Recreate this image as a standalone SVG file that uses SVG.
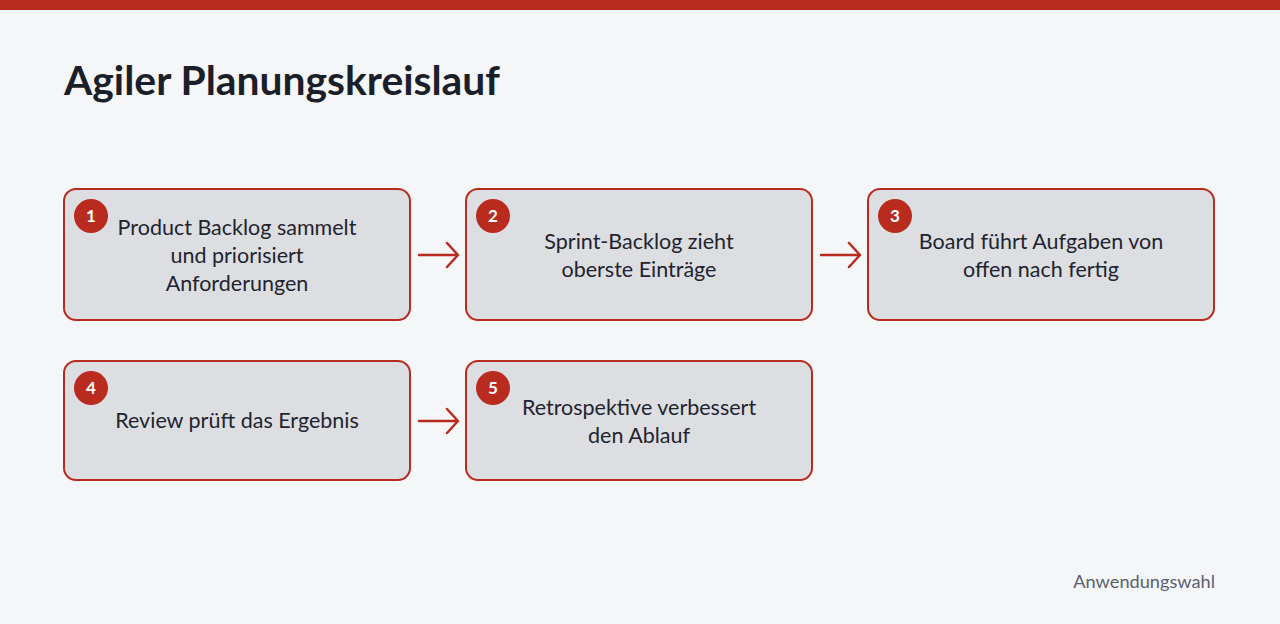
<svg xmlns="http://www.w3.org/2000/svg" width="1280" height="624" viewBox="0 0 1280 624">
<style>
.bg{fill:#f5f6f8}
.bar{fill:#b92b1e}
.title{font-family:Lato,"Open Sans","Liberation Sans",sans-serif;font-weight:700;font-size:40.8px;fill:#1b1f2a}
.box{fill:#dcdee2;stroke:#b92b1e;stroke-width:2}
.badge{fill:#b92b1e}
.num{font-family:Lato,"Liberation Sans",sans-serif;font-weight:700;font-size:17px;fill:#ffffff;text-anchor:middle}
.lbl{font-family:Lato,"Open Sans","Liberation Sans",sans-serif;font-size:21.5px;fill:#1f2430;text-anchor:middle}
.foot{font-family:Lato,"Liberation Sans",sans-serif;font-size:18.2px;fill:#5a6070;text-anchor:end}
.conn{stroke:#b92b1e;stroke-width:2.5;fill:none;stroke-linecap:round;stroke-linejoin:round}
</style>
<rect class="bg" x="0" y="0" width="1280" height="624"/>
<rect class="bar" x="0" y="0" width="1280" height="10"/>
<text class="title" x="64" y="95">Agiler Planungskreislauf</text>
<g id="node1">
<rect class="box" x="64" y="189" width="346" height="131" rx="12"/>
<circle class="badge" cx="91" cy="216" r="17"/>
<text class="num" x="91" y="222">1</text>
<text class="lbl" x="237" y="235">Product Backlog sammelt</text>
<text class="lbl" x="237" y="263">und priorisiert</text>
<text class="lbl" x="237" y="291">Anforderungen</text>
</g>
<g id="node2">
<rect class="box" x="466" y="189" width="346" height="131" rx="12"/>
<circle class="badge" cx="493" cy="216" r="17"/>
<text class="num" x="493" y="222">2</text>
<text class="lbl" x="639" y="249">Sprint-Backlog zieht</text>
<text class="lbl" x="639" y="277">oberste Einträge</text>
</g>
<g id="node3">
<rect class="box" x="868" y="189" width="346" height="131" rx="12"/>
<circle class="badge" cx="895" cy="216" r="17"/>
<text class="num" x="895" y="222">3</text>
<text class="lbl" x="1041" y="249">Board führt Aufgaben von</text>
<text class="lbl" x="1041" y="277">offen nach fertig</text>
</g>
<g id="node4">
<rect class="box" x="64" y="361" width="346" height="119" rx="12"/>
<circle class="badge" cx="91" cy="388" r="17"/>
<text class="num" x="91" y="394">4</text>
<text class="lbl" x="237" y="428">Review prüft das Ergebnis</text>
</g>
<g id="node5">
<rect class="box" x="466" y="361" width="346" height="119" rx="12"/>
<circle class="badge" cx="493" cy="388" r="17"/>
<text class="num" x="493" y="394">5</text>
<text class="lbl" x="639" y="415">Retrospektive verbessert</text>
<text class="lbl" x="639" y="443">den Ablauf</text>
</g>
<g id="connectors">
<path class="conn" d="M419 255 H457 M447 243 L458 255 L447 267"/>
<path class="conn" d="M821 255 H859 M849 243 L860 255 L849 267"/>
<path class="conn" d="M419 421 H457 M447 409 L458 421 L447 433"/>
</g>
<text class="foot" x="1215" y="588">Anwendungswahl</text>
</svg>
